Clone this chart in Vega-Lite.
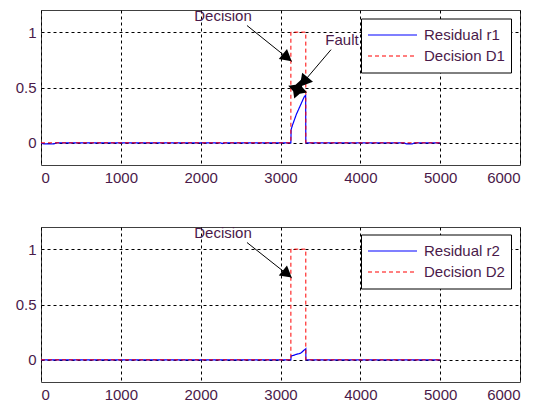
{
  "$schema": "https://vega.github.io/schema/vega-lite/v6.json",
  "background": "white",
  "padding": {"left": 14, "top": 8, "right": 5, "bottom": 5},
  "autosize": {"type": "pad"},
  "spacing": 62,
  "bounds": "flush",
  "resolve": {
    "scale": {"color": "independent", "strokeDash": "independent"},
    "legend": {"color": "independent", "strokeDash": "independent"}
  },
  "config": {
    "font": "Liberation Sans",
    "view": {"stroke": "#404040", "strokeWidth": 1},
    "axis": {
      "labelFont": "Liberation Sans",
      "labelFontSize": 15,
      "labelColor": "#4a1a4a",
      "ticks": false,
      "domain": false,
      "gridColor": "#000000",
      "gridDash": [3, 3],
      "gridOpacity": 1,
      "gridWidth": 1,
      "title": null,
      "labelPadding": 5
    },
    "legend": {
      "symbolType": "stroke",
      "symbolSize": 2401,
      "symbolStrokeWidth": 1.2,
      "clipHeight": 21,
      "labelFont": "Liberation Sans",
      "labelFontSize": 15,
      "labelColor": "#4a1a4a",
      "padding": 6,
      "strokeColor": "#000000",
      "fillColor": "#ffffff",
      "labelOffset": 6,
      "rowPadding": 0,
      "title": null
    }
  },
  "datasets": {
    "p1": [
      {"series": "Residual r1", "x": 0, "y": -0.004},
      {"series": "Residual r1", "x": 40, "y": -0.01},
      {"series": "Residual r1", "x": 160, "y": -0.01},
      {"series": "Residual r1", "x": 190, "y": 0},
      {"series": "Residual r1", "x": 2250, "y": 0},
      {"series": "Residual r1", "x": 2270, "y": -0.006},
      {"series": "Residual r1", "x": 2290, "y": 0},
      {"series": "Residual r1", "x": 3130, "y": 0},
      {"series": "Residual r1", "x": 3133, "y": 0.12},
      {"series": "Residual r1", "x": 3150, "y": 0.16},
      {"series": "Residual r1", "x": 3175, "y": 0.21},
      {"series": "Residual r1", "x": 3200, "y": 0.26},
      {"series": "Residual r1", "x": 3225, "y": 0.3},
      {"series": "Residual r1", "x": 3250, "y": 0.34},
      {"series": "Residual r1", "x": 3275, "y": 0.38},
      {"series": "Residual r1", "x": 3300, "y": 0.42},
      {"series": "Residual r1", "x": 3315, "y": 0.43},
      {"series": "Residual r1", "x": 3317, "y": 0},
      {"series": "Residual r1", "x": 4550, "y": 0},
      {"series": "Residual r1", "x": 4580, "y": -0.01},
      {"series": "Residual r1", "x": 4650, "y": -0.01},
      {"series": "Residual r1", "x": 4680, "y": 0},
      {"series": "Residual r1", "x": 5000, "y": 0},
      {"series": "Decision D1", "x": 0, "y": 0},
      {"series": "Decision D1", "x": 3130, "y": 0},
      {"series": "Decision D1", "x": 3130, "y": 1},
      {"series": "Decision D1", "x": 3317, "y": 1},
      {"series": "Decision D1", "x": 3317, "y": 0},
      {"series": "Decision D1", "x": 5000, "y": 0}
    ],
    "p2": [
      {"series": "Residual r2", "x": 0, "y": 0},
      {"series": "Residual r2", "x": 3130, "y": 0},
      {"series": "Residual r2", "x": 3133, "y": 0.035},
      {"series": "Residual r2", "x": 3160, "y": 0.04},
      {"series": "Residual r2", "x": 3180, "y": 0.045},
      {"series": "Residual r2", "x": 3200, "y": 0.05},
      {"series": "Residual r2", "x": 3230, "y": 0.055},
      {"series": "Residual r2", "x": 3250, "y": 0.06},
      {"series": "Residual r2", "x": 3270, "y": 0.07},
      {"series": "Residual r2", "x": 3290, "y": 0.085},
      {"series": "Residual r2", "x": 3310, "y": 0.095},
      {"series": "Residual r2", "x": 3317, "y": 0.1},
      {"series": "Residual r2", "x": 3318, "y": 0},
      {"series": "Residual r2", "x": 5000, "y": 0},
      {"series": "Decision D2", "x": 0, "y": 0},
      {"series": "Decision D2", "x": 3130, "y": 0},
      {"series": "Decision D2", "x": 3130, "y": 1},
      {"series": "Decision D2", "x": 3317, "y": 1},
      {"series": "Decision D2", "x": 3317, "y": 0},
      {"series": "Decision D2", "x": 5000, "y": 0}
    ],
    "notes1": [
      {"label": "Decision", "x": 2280, "y": 1.15},
      {"label": "Fault", "x": 3770, "y": 0.925}
    ],
    "arrows1": [
      {"name": "Decision", "x": 2580, "y": 1.06, "x2": 3141, "y2": 0.735},
      {"name": "Fault", "x": 3633, "y": 0.842, "x2": 3230, "y2": 0.5}
    ],
    "heads1": [
      {"name": "Decision", "x": 3085, "y": 0.77}
    ],
    "faulthead1": [
      {"name": "Fault", "x": 3290, "y": 0.55}
    ],
    "blob1": [
      {"name": "Fault", "x": 3215, "y": 0.485}
    ],
    "notes2": [
      {"label": "Decision", "x": 2280, "y": 1.15}
    ],
    "arrows2": [
      {"name": "Decision", "x": 2580, "y": 1.06, "x2": 3141, "y2": 0.74}
    ],
    "heads2": [
      {"name": "Decision", "x": 3085, "y": 0.775}
    ]
  },
  "vconcat": [
    {
      "width": 479,
      "height": 155,
      "encoding": {
        "x": {"field": "x", "type": "quantitative", "scale": {"domain": [0, 6000], "nice": false, "zero": false}, "axis": {"values": [0, 1000, 2000, 3000, 4000, 5000, 6000], "format": "d"}},
        "y": {"field": "y", "type": "quantitative", "scale": {"domain": [-0.2, 1.2], "nice": false, "zero": false}, "axis": {"values": [0, 0.5, 1], "format": "~g"}}
      },
      "layer": [
        {
          "data": {"name": "p1"},
          "transform": [{"filter": "datum.series === 'Residual r1'"}],
          "mark": {"type": "line", "strokeWidth": 1.2, "clip": true},
          "encoding": {
            "order": {"value": null},
            "color": {"field": "series", "type": "nominal", "scale": {"domain": ["Residual r1", "Decision D1"], "range": ["#0000ff", "#ff0000"]}, "legend": {"orient": "none", "legendX": 320, "legendY": 8.5, "encode": {"symbols": {"update": {"strokeDash": {"signal": "datum.value === 'Decision D1' ? [4, 3] : [1, 0]"}}}}}},
            "strokeDash": {"field": "series", "type": "nominal", "scale": {"domain": ["Residual r1", "Decision D1"], "range": [[1, 0], [4, 3]]}, "legend": null}
          }
        },
        {
          "data": {"name": "p1"},
          "transform": [{"filter": "datum.series === 'Decision D1'"}],
          "mark": {"type": "line", "strokeWidth": 1, "clip": true},
          "encoding": {
            "order": {"value": null},
            "color": {"field": "series", "type": "nominal", "scale": {"domain": ["Residual r1", "Decision D1"], "range": ["#0000ff", "#ff0000"]}, "legend": {"orient": "none", "legendX": 320, "legendY": 8.5, "encode": {"symbols": {"update": {"strokeDash": {"signal": "datum.value === 'Decision D1' ? [4, 3] : [1, 0]"}}}}}},
            "strokeDash": {"field": "series", "type": "nominal", "scale": {"domain": ["Residual r1", "Decision D1"], "range": [[1, 0], [4, 3]]}, "legend": null}
          }
        },
        {
          "data": {"name": "arrows1"},
          "mark": {"type": "rule", "color": "#000000", "strokeWidth": 1},
          "encoding": {"x2": {"field": "x2"}, "y2": {"field": "y2"}}
        },
        {
          "data": {"name": "heads1"},
          "mark": {"type": "point", "shape": "triangle-right", "filled": true, "color": "#000000", "opacity": 1, "size": 170, "angle": 39}
        },
        {
          "data": {"name": "faulthead1"},
          "mark": {"type": "point", "shape": "triangle-right", "filled": true, "color": "#000000", "opacity": 1, "size": 200, "angle": 130}
        },
        {
          "data": {"name": "blob1"},
          "mark": {"type": "point", "shape": "M0,-1L0.35,-0.35L1,0L0.35,0.35L0,1L-0.35,0.35L-1,0L-0.35,-0.35Z", "filled": true, "color": "#000000", "opacity": 1, "size": 400, "angle": 20}
        },
        {
          "data": {"name": "notes1"},
          "mark": {"type": "text", "font": "Liberation Sans", "fontSize": 15, "color": "#4a1a4a", "align": "center", "baseline": "middle"},
          "encoding": {"text": {"field": "label"}}
        }
      ]
    },
    {
      "width": 479,
      "height": 155,
      "encoding": {
        "x": {"field": "x", "type": "quantitative", "scale": {"domain": [0, 6000], "nice": false, "zero": false}, "axis": {"values": [0, 1000, 2000, 3000, 4000, 5000, 6000], "format": "d"}},
        "y": {"field": "y", "type": "quantitative", "scale": {"domain": [-0.2, 1.2], "nice": false, "zero": false}, "axis": {"values": [0, 0.5, 1], "format": "~g"}}
      },
      "layer": [
        {
          "data": {"name": "p2"},
          "transform": [{"filter": "datum.series === 'Residual r2'"}],
          "mark": {"type": "line", "strokeWidth": 1.2, "clip": true},
          "encoding": {
            "order": {"value": null},
            "color": {"field": "series", "type": "nominal", "scale": {"domain": ["Residual r2", "Decision D2"], "range": ["#0000ff", "#ff0000"]}, "legend": {"orient": "none", "legendX": 320, "legendY": 7.5, "encode": {"symbols": {"update": {"strokeDash": {"signal": "datum.value === 'Decision D2' ? [4, 3] : [1, 0]"}}}}}},
            "strokeDash": {"field": "series", "type": "nominal", "scale": {"domain": ["Residual r2", "Decision D2"], "range": [[1, 0], [4, 3]]}, "legend": null}
          }
        },
        {
          "data": {"name": "p2"},
          "transform": [{"filter": "datum.series === 'Decision D2'"}],
          "mark": {"type": "line", "strokeWidth": 1, "clip": true},
          "encoding": {
            "order": {"value": null},
            "color": {"field": "series", "type": "nominal", "scale": {"domain": ["Residual r2", "Decision D2"], "range": ["#0000ff", "#ff0000"]}, "legend": {"orient": "none", "legendX": 320, "legendY": 7.5, "encode": {"symbols": {"update": {"strokeDash": {"signal": "datum.value === 'Decision D2' ? [4, 3] : [1, 0]"}}}}}},
            "strokeDash": {"field": "series", "type": "nominal", "scale": {"domain": ["Residual r2", "Decision D2"], "range": [[1, 0], [4, 3]]}, "legend": null}
          }
        },
        {
          "data": {"name": "arrows2"},
          "mark": {"type": "rule", "color": "#000000", "strokeWidth": 1},
          "encoding": {"x2": {"field": "x2"}, "y2": {"field": "y2"}}
        },
        {
          "data": {"name": "heads2"},
          "mark": {"type": "point", "shape": "triangle-right", "filled": true, "color": "#000000", "opacity": 1, "size": 170, "angle": 39}
        },
        {
          "data": {"name": "notes2"},
          "mark": {"type": "text", "font": "Liberation Sans", "fontSize": 15, "color": "#4a1a4a", "align": "center", "baseline": "middle"},
          "encoding": {"text": {"field": "label"}}
        }
      ]
    }
  ]
}
